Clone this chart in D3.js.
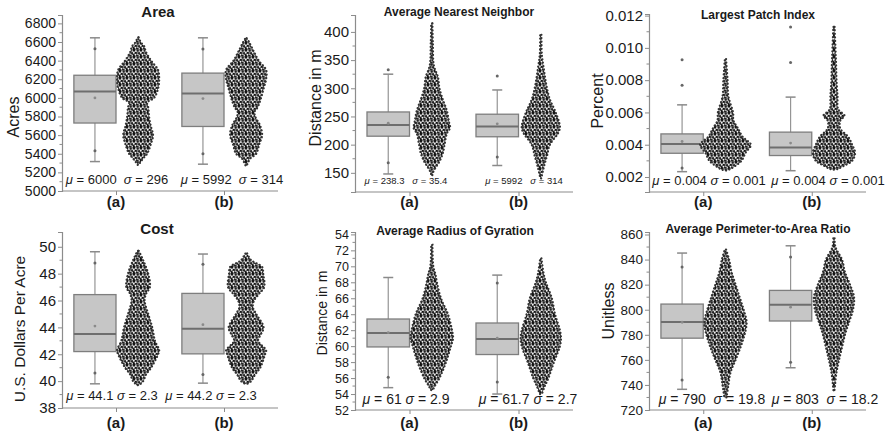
<!DOCTYPE html>
<html>
<head>
<meta charset="utf-8">
<script src="https://cdn.jsdelivr.net/npm/d3@7"></script>
<style>
  body { margin: 0; background: #fff; }
  text { font-family: "Liberation Sans", Arial, sans-serif; fill: #1a1a1a; }
</style>
</head>
<body>
<div id="wrapper"></div>
<script>
// ---- data ----
const categories = ["(a)", "(b)"];
const titles = ["Area", "Average Nearest Neighbor", "Largest Patch Index",
  "Cost", "Average Radius of Gyration", "Average Perimeter-to-Area Ratio"];
const yLabels = ["Acres", "Distance in m", "Percent",
  "U.S. Dollars Per Acre", "Distance in m", "Unitless"];

const yTicks = [
  [5000, 5200, 5400, 5600, 5800, 6000, 6200, 6400, 6600, 6800],
  [150, 200, 250, 300, 350, 400],
  [0.002, 0.004, 0.006, 0.008, 0.010, 0.012],
  [38, 40, 42, 44, 46, 48, 50],
  [52, 54, 56, 58, 60, 62, 64, 66, 68, 70, 72, 74],
  [720, 740, 760, 780, 800, 820, 840, 860]
];
const yTickLabels = [
  ["5000", "5200", "5400", "5600", "5800", "6000", "6200", "6400", "6600", "6800"],
  ["150", "200", "250", "300", "350", "400"],
  ["0.002", "0.004", "0.006", "0.008", "0.010", "0.012"],
  ["38", "40", "42", "44", "46", "48", "50"],
  ["52", "54", "56", "58", "60", "62", "64", "66", "68", "70", "72", "54"],
  ["720", "740", "760", "780", "800", "820", "840", "860"]
];

const statsMu = [["6000", "5992"], ["238.3", "5992"], ["0.004", "0.004"],
  ["44.1", "44.2"], ["61", "61.7"], ["790", "803"]];
const statsSigma = [["296", "314"], ["35.4", "314"], ["0.001", "0.001"],
  ["2.3", "2.3"], ["2.9", "2.7"], ["19.8", "18.2"]];

// box stats: [low whisker, q1, median, q3, high whisker, mean]
const boxArea = [[5316, 5730, 6068, 6243, 6645, 6000], [5288, 5693, 6046, 6266, 6645, 5992]];
const boxAnn  = [[148, 215, 235, 258, 325, 238], [163, 214, 232, 254, 297, 237]];
const boxLpi  = [[0.00233, 0.00347, 0.00405, 0.00467, 0.00647, 0.0042], [0.00239, 0.00333, 0.00382, 0.00478, 0.00695, 0.0041]];
const boxCost = [[39.8, 42.2, 43.5, 46.44, 49.63, 44.1], [39.85, 42.03, 43.9, 46.53, 49.46, 44.2]];
const boxRog  = [[54.8, 59.9, 61.65, 63.4, 68.6, 61.7], [54.0, 58.95, 60.9, 62.9, 68.9, 61.0]];
const boxPar  = [[736.5, 777.3, 790.3, 804.5, 845.2, 790], [753.7, 791, 804, 815.4, 851, 802]];

// extra points drawn on the whiskers
const ptsArea = [[6527, 5432], [6525, 5400]];
const ptsAnn  = [[333, 168], [322, 178]];
const ptsLpi  = [[0.00769, 0.00927, 0.00255], [0.0091, 0.0113]];
const ptsCost = [[48.8, 40.6], [48.7, 40.5]];
const ptsRog  = [[56.1], [67.9, 55.5]];
const ptsPar  = [[834, 743.9], [842, 758]];

// swarm outline: [value, relative spread]
const swarmArea = [
  [[6650,0.03],[6600,0.12],[6550,0.3],[6500,0.36],[6400,0.62],[6300,0.95],[6200,1.0],[6100,0.95],[6000,0.76],[5950,0.43],[5900,0.48],[5800,0.52],[5700,0.6],[5600,0.71],[5500,0.6],[5400,0.43],[5350,0.24],[5300,0.08],[5280,0.02]],
  [[6640,0.03],[6600,0.14],[6500,0.36],[6400,0.6],[6300,0.95],[6200,0.95],[6100,0.83],[6000,0.71],[5900,0.55],[5850,0.4],[5800,0.43],[5700,0.67],[5600,0.76],[5500,0.62],[5400,0.48],[5350,0.2],[5300,0.08],[5270,0.02]]
];
const swarmAnn = [
  [[415,0.03],[380,0.05],[340,0.1],[320,0.29],[300,0.36],[280,0.52],[260,0.71],[240,0.81],[230,0.86],[220,0.71],[200,0.6],[185,0.52],[170,0.36],[160,0.19],[150,0.05],[145,0.02]],
  [[395,0.03],[360,0.05],[340,0.12],[300,0.29],[280,0.43],[260,0.67],[240,0.86],[230,0.9],[220,0.81],[200,0.43],[180,0.29],[160,0.14],[145,0.05],[140,0.02]]
];
const swarmLpi = [
  [[0.0093,0.03],[0.008,0.1],[0.007,0.14],[0.006,0.36],[0.0055,0.38],[0.005,0.6],[0.0045,0.81],[0.004,1.2],[0.0035,0.95],[0.003,0.76],[0.0027,0.48],[0.0025,0.24],[0.0024,0.05]],
  [[0.0113,0.03],[0.010,0.07],[0.009,0.1],[0.008,0.12],[0.007,0.17],[0.0062,0.2],[0.0058,0.5],[0.0055,0.3],[0.005,0.3],[0.0045,0.67],[0.004,0.86],[0.0035,1.0],[0.003,0.86],[0.0027,0.48],[0.0025,0.19],[0.00245,0.05]]
];
const swarmCost = [
  [[49.7,0.03],[49,0.24],[48,0.48],[47,0.56],[46.5,0.38],[46,0.31],[45,0.48],[44,0.67],[43,0.8],[42.3,1.0],[42,0.95],[41,0.62],[40.5,0.38],[40,0.24],[39.7,0.05]],
  [[49.5,0.05],[49,0.24],[48.5,0.76],[48,0.81],[47,0.86],[46.5,0.62],[46,0.38],[45.5,0.32],[45,0.48],[44,0.83],[43.5,0.71],[43,0.57],[42.3,0.95],[42,0.9],[41,0.67],[40.5,0.43],[40,0.24],[39.8,0.05]]
];
const swarmRog = [
  [[72.7,0.03],[70,0.07],[69,0.17],[68,0.24],[66,0.43],[64,0.76],[62,0.95],[61,1.0],[60,0.9],[58,0.67],[56,0.36],[55,0.14],[54.5,0.05]],
  [[71,0.03],[69,0.14],[68,0.24],[66,0.52],[64,0.67],[62,0.9],[61,0.95],[60,0.9],[58,0.62],[56,0.36],[55,0.19],[54,0.05]]
];
const swarmPar = [
  [[848,0.03],[840,0.17],[830,0.29],[820,0.48],[810,0.67],[800,0.86],[790,1.0],[780,0.9],[770,0.71],[760,0.48],[750,0.24],[740,0.14],[730,0.05]],
  [[857,0.03],[850,0.07],[840,0.38],[830,0.52],[820,0.76],[810,0.95],[800,0.9],[790,0.71],[780,0.52],[770,0.38],[760,0.24],[750,0.12],[740,0.05],[735,0.02]]
];

const boxes = [boxArea, boxAnn, boxLpi, boxCost, boxRog, boxPar];
const whiskerPts = [ptsArea, ptsAnn, ptsLpi, ptsCost, ptsRog, ptsPar];
const swarms = [swarmArea, swarmAnn, swarmLpi, swarmCost, swarmRog, swarmPar];

// ---- layout of each panel ----
const panels = [
  { x0: 62,  x1: 278, dom: [5000, 6890],     rng: [191, 15],  title: [158, 17, 15], yl: [13, 117, 16],  tick: 14, stY: 184, stF: 13,  stX: [117, 232], gap: "  ", catY: 207 },
  { x0: 355, x1: 573, dom: [116, 430],       rng: [192, 15],  title: [459, 16, 12], yl: [315, 98, 16],  tick: 15, stY: 184, stF: 9.5, stX: [406, 524], gap: "   ", catY: 207 },
  { x0: 649, x1: 866, dom: [0.00107, 0.0121], rng: [192, 14], title: [758, 19, 12], yl: [597, 101, 16], tick: 15, stY: 185, stF: 13,  stX: [709, 828], gap: " ", catY: 207 },
  { x0: 62,  x1: 278, dom: [38, 51.1],       rng: [408, 232], title: [157, 234, 15], yl: [19, 329, 15.5], tick: 15, stY: 400, stF: 13,  stX: [112, 211], gap: " ", catY: 428 },
  { x0: 355, x1: 573, dom: [52, 74.3],       rng: [410, 232], title: [455, 235, 12], yl: [322, 313, 14], tick: 12.5, stY: 404, stF: 14, stX: [406, 528], gap: " ", catY: 428 },
  { x0: 649, x1: 866, dom: [720, 862],       rng: [410, 232], title: [758, 233, 12], yl: [608, 311, 16], tick: 13.5, stY: 404, stF: 14, stX: [712, 825], gap: "  ", catY: 428 }
];

const svg = d3.select("#wrapper").append("svg")
  .attr("width", 891).attr("height", 438);

// speckled texture for the beeswarm clouds (dark dots with light gaps)
const pat = svg.append("defs").append("pattern")
  .attr("id", "dots").attr("patternUnits", "userSpaceOnUse")
  .attr("width", 7).attr("height", 7);
pat.append("rect").attr("width", 7).attr("height", 7).attr("fill", "#7a7a7a");
[[1, 1], [4.6, 1.4], [2.6, 3.9], [6.1, 4.4], [0.9, 6.1], [4.1, 6.4]].forEach(([cx, cy], k) =>
  pat.append("circle").attr("cx", cx).attr("cy", cy).attr("r", 1.2)
    .attr("fill", k % 2 ? "#222" : "#111"));
[[2.9, 2.1], [6.3, 2.3], [0.8, 3.6], [4.9, 5.4], [2.4, 5.6], [6.6, 6.6]].forEach(([cx, cy], k) =>
  pat.append("circle").attr("cx", cx).attr("cy", cy).attr("r", k % 2 ? 0.7 : 0.85)
    .attr("fill", k % 2 ? "#d0d0d0" : "#f6f6f6"));

const axisColor = "#8c8c8c";

panels.forEach((p, i) => {
  const g = svg.append("g");
  const y = d3.scaleLinear().domain(p.dom).range(p.rng);
  const x = d3.scalePoint().domain(categories).range([p.x0, p.x1]).padding(0.5);
  const boxW = x.step() * 0.39;
  const spread = x.step() * 0.195;

  // y axis with minor ticks
  const ticks = yTicks[i];
  const minor = d3.pairs(ticks).map(([a, b]) => (a + b) / 2);
  const yAxis = d3.axisLeft(y).tickValues(ticks)
    .tickFormat((d, k) => yTickLabels[i][k]).tickSize(4).tickPadding(2);
  const ya = g.append("g").attr("transform", `translate(${p.x0},0)`).call(yAxis);
  ya.select(".domain").attr("stroke", axisColor).attr("stroke-width", 1.2);
  ya.selectAll(".tick line").attr("stroke", axisColor);
  ya.selectAll(".tick text").attr("font-size", p.tick).attr("fill", "#1a1a1a")
    .style("font-family", "'Liberation Sans', Arial, sans-serif");
  g.append("g").selectAll("line").data(minor).join("line")
    .attr("x1", p.x0 - 2.5).attr("x2", p.x0)
    .attr("y1", d => y(d)).attr("y2", d => y(d))
    .attr("stroke", axisColor);

  // x axis
  const xAxis = d3.axisBottom(x).tickSize(4).tickFormat("");
  const xa = g.append("g").attr("transform", `translate(0,${p.rng[0]})`).call(xAxis);
  xa.select(".domain").attr("stroke", axisColor).attr("stroke-width", 1.2)
    .attr("d", `M${p.x0},0H${p.x1}`);
  xa.selectAll(".tick line").attr("stroke", axisColor);
  g.selectAll(".cat").data(categories).join("text")
    .attr("x", d => x(d)).attr("y", p.catY)
    .attr("text-anchor", "middle").attr("font-size", 15).attr("font-weight", "bold")
    .text(d => d);

  // title and axis label
  g.append("text").attr("x", p.title[0]).attr("y", p.title[1])
    .attr("text-anchor", "middle").attr("font-size", p.title[2]).attr("font-weight", "bold")
    .text(titles[i]);
  g.append("text")
    .attr("transform", `translate(${p.yl[0]},${p.yl[1]}) rotate(-90)`)
    .attr("text-anchor", "middle").attr("dominant-baseline", "central")
    .attr("font-size", p.yl[2]).text(yLabels[i]);

  categories.forEach((c, j) => {
    const cx = x(c);
    const [lo, q1, med, q3, hi, mean] = boxes[i][j];

    // whisker
    g.append("line").attr("x1", cx - boxW / 2).attr("x2", cx - boxW / 2)
      .attr("y1", y(hi)).attr("y2", y(lo)).attr("stroke", "#959595").attr("stroke-width", 1.2);
    [lo, hi].forEach(v => g.append("line")
      .attr("x1", cx - boxW / 2 - 5).attr("x2", cx - boxW / 2 + 5)
      .attr("y1", y(v)).attr("y2", y(v)).attr("stroke", "#8a8a8a").attr("stroke-width", 1.5));

    // box
    g.append("rect").attr("x", cx - boxW).attr("width", boxW)
      .attr("y", y(q3)).attr("height", y(q1) - y(q3))
      .attr("fill", "#c6c6c6").attr("stroke", "#7e7e7e").attr("stroke-width", 1.3);
    g.append("line").attr("x1", cx - boxW).attr("x2", cx)
      .attr("y1", y(med)).attr("y2", y(med)).attr("stroke", "#6e6e6e").attr("stroke-width", 2);
    g.append("circle").attr("cx", cx - boxW / 2).attr("cy", y(mean)).attr("r", 1.4)
      .attr("fill", "#8a8a8a");
    g.selectAll(null).data(whiskerPts[i][j]).join("circle")
      .attr("cx", cx - boxW / 2).attr("cy", d => y(d)).attr("r", 1.5).attr("fill", "#666");

    // beeswarm cloud
    const sc = cx + spread * 1.05;
    const area = d3.area().curve(d3.curveCatmullRom)
      .y(d => y(d[0]))
      .x0(d => sc - d[1] * spread)
      .x1(d => sc + d[1] * spread);
    g.append("path").attr("d", area(swarms[i][j])).attr("fill", "url(#dots)")
      .attr("stroke", "#333").attr("stroke-width", 2.2)
      .attr("stroke-linecap", "round").attr("stroke-dasharray", "0.1 3.4");

    // mean / sd annotation
    const t = g.append("text").attr("x", p.stX[j]).attr("y", p.stY)
      .attr("text-anchor", "middle").attr("font-size", p.stF)
      .attr("xml:space", "preserve");
    t.append("tspan").attr("font-style", "italic").text("\u03bc");
    t.append("tspan").text(` = ${statsMu[i][j]}${p.gap}`);
    t.append("tspan").attr("font-style", "italic").text("\u03c3");
    t.append("tspan").text(` = ${statsSigma[i][j]}`);
  });
});
</script>
</body>
</html>
